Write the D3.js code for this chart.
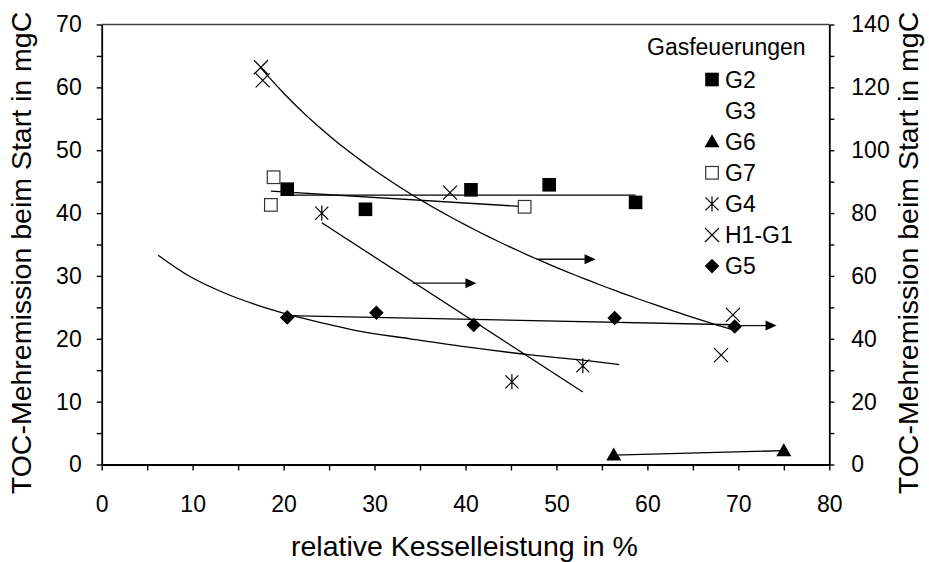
<!DOCTYPE html>
<html>
<head>
<meta charset="utf-8">
<script src="https://cdn.jsdelivr.net/npm/d3@7"></script>
<style>
  html, body { margin: 0; padding: 0; background: #fff; }
  svg { display: block; font-family: "Liberation Sans", Arial, Helvetica, sans-serif; }
</style>
</head>
<body>
<svg id="chart" width="929" height="562"></svg>
<script>
// Extra TOC emission at start-up vs. relative boiler load, gas-fired units

// --- left-axis series (mgC) ---
const g2Load = [20.4, 29.0, 40.6, 49.2, 58.7];
const g2Toc  = [43.8, 40.6, 43.7, 44.5, 41.7];

const g6Load = [56.3, 75.0];
const g6Toc  = [1.5, 2.2];

const g7Load = [18.9, 18.6, 46.5];
const g7Toc  = [45.7, 41.3, 41.0];

// G3 has no markers, only its curve
const g3Load = [6.2, 9.7, 13.3, 17.0, 20.7, 24.3, 28.0, 33.9, 40.1, 47.4, 52.9, 56.9];
const g3Toc  = [33.3, 29.9, 27.4, 25.4, 23.8, 22.5, 21.3, 20.0, 18.7, 17.4, 16.6, 15.9];

// --- right-axis series (mgC) ---
const g4Load = [24.2, 45.1, 52.9];
const g4Toc  = [80.0, 26.3, 31.4];

const h1g1Load = [17.5, 17.7, 38.3, 69.4, 68.1];
const h1g1Toc  = [126.4, 122.2, 86.5, 47.6, 34.8];

const g5Load = [20.4, 30.2, 40.9, 56.4, 69.6];
const g5Toc  = [46.8, 48.3, 44.4, 46.6, 43.9];

// arrows pointing the right-axis series to their axis: [load from, load to, TOC]
const arrowG4   = [34.2, 41.2, 57.7];
const arrowH1G1 = [47.8, 54.3, 65.3];
const arrowG5   = [69.8, 74.2, 44.2];

// axes
const xTicks = [0, 10, 20, 30, 40, 50, 60, 70, 80];
const yLeftTicks = [0, 10, 20, 30, 40, 50, 60, 70];
const yRightTicks = [0, 20, 40, 60, 80, 100, 120, 140];

const legendTitle = "Gasfeuerungen";
const legendNames = ["G2", "G3", "G6", "G7", "G4", "H1-G1", "G5"];
const legendMarkers = ["square", "none", "triangle", "open", "star", "cross", "diamond"];

const xLabel = "relative Kesselleistung in %";
const yLabel = "TOC-Mehremission beim Start in mgC";

// ------------------------------------------------------------------
const svg = d3.select("#chart");
const plotLeft = 101.7, plotRight = 829.3, plotTop = 24.5, plotBottom = 464.5;

const x  = d3.scaleLinear().domain([0, 80]).range([plotLeft, plotRight]);
const yL = d3.scaleLinear().domain([0, 70]).range([plotBottom, plotTop]);
const yR = d3.scaleLinear().domain([0, 140]).range([plotBottom, plotTop]);

const tickFont = 23;
const titleFont = 28.5;

// top frame line
svg.append("line")
  .attr("x1", x(0)).attr("x2", x(80))
  .attr("y1", yL(70)).attr("y2", yL(70))
  .attr("stroke", "#404040").attr("stroke-width", 1.6);

function styleAxis(g) {
  g.select(".domain").attr("stroke", "#000").attr("stroke-width", 1.8);
  g.selectAll(".tick line").attr("stroke", "#000").attr("stroke-width", 1.4);
  g.selectAll(".tick text").attr("fill", "#000")
    .style("font-size", tickFont + "px")
    .style("font-family", '"Liberation Sans", Arial, sans-serif');
}

svg.append("g")
  .attr("transform", `translate(0,${plotBottom})`)
  .call(d3.axisBottom(x)
    .tickValues(d3.range(0, 81, 5))
    .tickFormat(d => xTicks.includes(d) ? d : "")
    .tickSize(6).tickSizeOuter(0).tickPadding(25))
  .call(styleAxis);

svg.append("g")
  .attr("transform", `translate(${plotLeft},0)`)
  .call(d3.axisLeft(yL)
    .tickValues(d3.range(0, 71, 5))
    .tickFormat(d => yLeftTicks.includes(d) ? d : "")
    .tickSize(5).tickSizeOuter(0).tickPadding(15))
  .call(styleAxis);

svg.append("g")
  .attr("transform", `translate(${plotRight},0)`)
  .call(d3.axisRight(yR)
    .tickValues(d3.range(0, 141, 10))
    .tickFormat(d => yRightTicks.includes(d) ? d : "")
    .tickSize(5).tickSizeOuter(0).tickPadding(17))
  .call(styleAxis);

// axis titles
svg.append("text")
  .attr("x", 464.5).attr("y", 556)
  .attr("text-anchor", "middle")
  .style("font-size", titleFont + "px")
  .text(xLabel);

svg.append("text")
  .attr("transform", `translate(31,253) rotate(-90)`)
  .attr("text-anchor", "middle")
  .style("font-size", titleFont + "px")
  .text(yLabel);

svg.append("text")
  .attr("transform", `translate(918,253) rotate(-90)`)
  .attr("text-anchor", "middle")
  .style("font-size", titleFont + "px")
  .text(yLabel);

// ------------------------------------------------------------------
// trend lines
function zip(a, b) { return a.map((v, i) => [v, b[i]]); }

function linearTrend(xs, ys) {
  const mx = d3.mean(xs), my = d3.mean(ys);
  const sxy = d3.sum(xs, (v, i) => (v - mx) * (ys[i] - my));
  const sxx = d3.sum(xs, v => (v - mx) * (v - mx));
  const b = sxy / sxx, a = my - b * mx;
  const [x0, x1] = d3.extent(xs);
  return [[x0, a + b * x0], [x1, a + b * x1]];
}

function logTrend(xs, ys) {
  const lx = xs.map(Math.log);
  const mx = d3.mean(lx), my = d3.mean(ys);
  const sxy = d3.sum(lx, (v, i) => (v - mx) * (ys[i] - my));
  const sxx = d3.sum(lx, v => (v - mx) * (v - mx));
  const b = sxy / sxx, a = my - b * mx;
  const [x0, x1] = d3.extent(xs);
  return d3.range(0, 61).map(i => {
    const t = x0 + (x1 - x0) * i / 60;
    return [t, a + b * Math.log(t)];
  });
}

const lineL = d3.line().x(d => x(d[0])).y(d => yL(d[1]));
const lineR = d3.line().x(d => x(d[0])).y(d => yR(d[1]));
const curveL = d3.line().x(d => x(d[0])).y(d => yL(d[1])).curve(d3.curveMonotoneX);

const trends = svg.append("g").attr("fill", "none").attr("stroke", "#000").attr("stroke-width", 1.3);
trends.append("path").attr("d", lineL(linearTrend(g2Load, g2Toc)));
trends.append("path").attr("d", lineL(linearTrend(g7Load, g7Toc)));
trends.append("path").attr("d", lineL(linearTrend(g6Load, g6Toc)));
trends.append("path").attr("d", curveL(zip(g3Load, g3Toc)));
trends.append("path").attr("d", lineR(linearTrend(g4Load, g4Toc)));
trends.append("path").attr("d", lineR(logTrend(h1g1Load, h1g1Toc)));
trends.append("path").attr("d", lineR(linearTrend(g5Load, g5Toc)));

// arrows
function drawArrow(a) {
  const x0 = x(a[0]), x1 = x(a[1]), y = yR(a[2]);
  const head = 11, half = 5;
  svg.append("line")
    .attr("x1", x0).attr("x2", x1 - head + 1)
    .attr("y1", y).attr("y2", y)
    .attr("stroke", "#111").attr("stroke-width", 1.3);
  svg.append("path")
    .attr("d", `M${x1},${y} L${x1 - head},${y - half} L${x1 - head},${y + half} Z`)
    .attr("fill", "#000");
}
[arrowG4, arrowH1G1, arrowG5].forEach(drawArrow);

// ------------------------------------------------------------------
// markers
function drawMarker(g, type, cx, cy) {
  switch (type) {
    case "square":
      g.append("rect").attr("x", cx - 6.8).attr("y", cy - 6.8)
        .attr("width", 13.6).attr("height", 13.6).attr("fill", "#000");
      break;
    case "open":
      g.append("rect").attr("x", cx - 6.3).attr("y", cy - 6.3)
        .attr("width", 12.6).attr("height", 12.6)
        .attr("fill", "#fff").attr("stroke", "#333").attr("stroke-width", 1.2);
      break;
    case "triangle":
      g.append("path")
        .attr("d", `M${cx},${cy - 7.5} L${cx + 7.5},${cy + 5.5} L${cx - 7.5},${cy + 5.5} Z`)
        .attr("fill", "#000");
      break;
    case "diamond":
      g.append("path")
        .attr("d", `M${cx},${cy - 7.3} L${cx + 7.3},${cy} L${cx},${cy + 7.3} L${cx - 7.3},${cy} Z`)
        .attr("fill", "#000");
      break;
    case "cross":
      g.append("path")
        .attr("d", `M${cx - 7},${cy - 7} L${cx + 7},${cy + 7} M${cx + 7},${cy - 7} L${cx - 7},${cy + 7}`)
        .attr("stroke", "#000").attr("stroke-width", 1.2).attr("fill", "none");
      break;
    case "star":
      g.append("path")
        .attr("d", `M${cx - 6.5},${cy - 6.5} L${cx + 6.5},${cy + 6.5} M${cx + 6.5},${cy - 6.5} L${cx - 6.5},${cy + 6.5} M${cx},${cy - 7.5} L${cx},${cy + 7.5}`)
        .attr("stroke", "#000").attr("stroke-width", 1.2).attr("fill", "none");
      break;
  }
}

const seriesList = [
  { xs: g2Load,   ys: g2Toc,   y: yL, marker: "square" },
  { xs: g6Load,   ys: g6Toc,   y: yL, marker: "triangle" },
  { xs: g7Load,   ys: g7Toc,   y: yL, marker: "open" },
  { xs: g4Load,   ys: g4Toc,   y: yR, marker: "star" },
  { xs: h1g1Load, ys: h1g1Toc, y: yR, marker: "cross" },
  { xs: g5Load,   ys: g5Toc,   y: yR, marker: "diamond" }
];

const pts = svg.append("g");
seriesList.forEach(s => {
  s.xs.forEach((v, i) => drawMarker(pts, s.marker, x(v), s.y(s.ys[i])));
});

// ------------------------------------------------------------------
// legend
const legend = svg.append("g");
legend.append("text")
  .attr("x", 647).attr("y", 47).attr("dy", "0.35em")
  .style("font-size", "23px")
  .text(legendTitle);

legendNames.forEach((name, i) => {
  const cy = 79.5 + i * 31.1;
  drawMarker(legend, legendMarkers[i], 712, cy);
  legend.append("text")
    .attr("x", 725).attr("y", cy).attr("dy", "0.35em")
    .style("font-size", "23px")
    .text(name);
});
</script>
</body>
</html>
